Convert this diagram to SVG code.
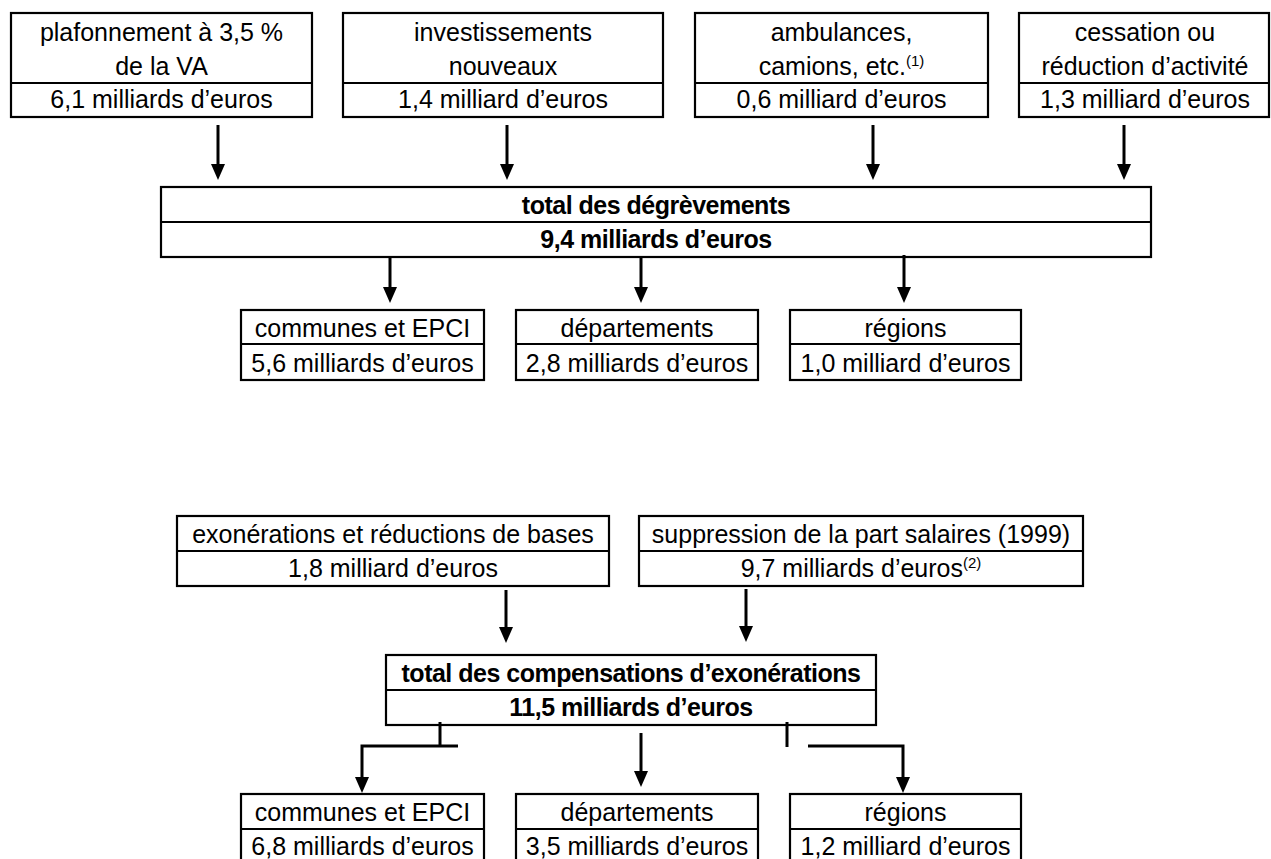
<svg xmlns="http://www.w3.org/2000/svg" width="1271" height="859" viewBox="0 0 1271 859">
<defs>
<style>
rect.b{fill:#fff;stroke:#000;stroke-width:2.2}
line.d{stroke:#000;stroke-width:2.2}
text{font-family:"Liberation Sans",Arial,sans-serif;font-size:25px;fill:#000;text-anchor:middle}
text.bold{font-weight:bold;letter-spacing:-0.5px}
tspan.sup{font-size:15px}
.c line,.c polyline{stroke:#000;stroke-width:3;fill:none}
.c polygon{fill:#000}
</style>
</defs>
<rect width="1271" height="859" fill="#fff"/>

<g id="n1">
<rect class="b" x="11" y="13" width="301" height="104"/>
<line class="d" x1="11" y1="83" x2="312" y2="83"/>
<text x="161.5" y="41">plafonnement à 3,5 %</text>
<text x="161.5" y="75">de la VA</text>
<text x="161.5" y="108">6,1 milliards d’euros</text>
</g>
<g id="n2">
<rect class="b" x="343" y="13" width="320" height="104"/>
<line class="d" x1="343" y1="83" x2="663" y2="83"/>
<text x="503" y="41">investissements</text>
<text x="503" y="75">nouveaux</text>
<text x="503" y="108">1,4 milliard d’euros</text>
</g>
<g id="n3">
<rect class="b" x="695" y="13" width="293" height="104"/>
<line class="d" x1="695" y1="83" x2="988" y2="83"/>
<text x="841.5" y="41">ambulances,</text>
<text x="841.5" y="75">camions, etc.<tspan class="sup" dy="-9">(1)</tspan></text>
<text x="841.5" y="108">0,6 milliard d’euros</text>
</g>
<g id="n4">
<rect class="b" x="1019" y="13" width="250" height="104"/>
<line class="d" x1="1019" y1="83" x2="1269" y2="83"/>
<text x="1145" y="41">cessation ou</text>
<text x="1145" y="75">réduction d’activité</text>
<text x="1145" y="108">1,3 milliard d’euros</text>
</g>

<g id="total1">
<rect class="b" x="161" y="187" width="990" height="70"/>
<line class="d" x1="161" y1="222" x2="1151" y2="222"/>
<text class="bold" x="656" y="214">total des dégrèvements</text>
<text class="bold" x="656" y="248">9,4 milliards d’euros</text>
</g>

<g id="communes1">
<rect class="b" x="241" y="310" width="243" height="70"/>
<line class="d" x1="241" y1="344" x2="484" y2="344"/>
<text x="362.5" y="337">communes et EPCI</text>
<text x="362.5" y="372">5,6 milliards d’euros</text>
</g>
<g id="departements1">
<rect class="b" x="516" y="310" width="242" height="70"/>
<line class="d" x1="516" y1="344" x2="758" y2="344"/>
<text x="637" y="337">départements</text>
<text x="637" y="372">2,8 milliards d’euros</text>
</g>
<g id="regions1">
<rect class="b" x="790" y="310" width="231" height="70"/>
<line class="d" x1="790" y1="344" x2="1021" y2="344"/>
<text x="905.5" y="337">régions</text>
<text x="905.5" y="372">1,0 milliard d’euros</text>
</g>

<g id="exo">
<rect class="b" x="177" y="516" width="432" height="70"/>
<line class="d" x1="177" y1="551" x2="609" y2="551"/>
<text x="393" y="543">exonérations et réductions de bases</text>
<text x="393" y="577">1,8 milliard d’euros</text>
</g>
<g id="supp">
<rect class="b" x="639" y="516" width="444" height="70"/>
<line class="d" x1="639" y1="551" x2="1083" y2="551"/>
<text x="861" y="543">suppression de la part salaires (1999)</text>
<text x="861" y="577">9,7 milliards d’euros<tspan class="sup" dy="-9">(2)</tspan></text>
</g>

<g id="total2">
<rect class="b" x="386" y="655" width="490" height="70"/>
<line class="d" x1="386" y1="690" x2="876" y2="690"/>
<text class="bold" x="631" y="682">total des compensations d’exonérations</text>
<text class="bold" x="631" y="716">11,5 milliards d’euros</text>
</g>

<g id="communes2">
<rect class="b" x="241" y="794" width="243" height="72"/>
<line class="d" x1="241" y1="829" x2="484" y2="829"/>
<text x="362.5" y="821">communes et EPCI</text>
<text x="362.5" y="855">6,8 milliards d’euros</text>
</g>
<g id="departements2">
<rect class="b" x="516" y="794" width="242" height="72"/>
<line class="d" x1="516" y1="829" x2="758" y2="829"/>
<text x="637" y="821">départements</text>
<text x="637" y="855">3,5 milliards d’euros</text>
</g>
<g id="regions2">
<rect class="b" x="790" y="794" width="231" height="72"/>
<line class="d" x1="790" y1="829" x2="1021" y2="829"/>
<text x="905.5" y="821">régions</text>
<text x="905.5" y="855">1,2 milliard d’euros</text>
</g>

<g id="connectors" class="c">
<line x1="218" y1="125" x2="218" y2="166"/><polygon points="211,164 225,164 218,180"/>
<line x1="507" y1="125" x2="507" y2="166"/><polygon points="500,164 514,164 507,180"/>
<line x1="873" y1="125" x2="873" y2="166"/><polygon points="866,164 880,164 873,180"/>
<line x1="1124" y1="125" x2="1124" y2="166"/><polygon points="1117,164 1131,164 1124,180"/>

<line x1="390" y1="257" x2="390" y2="289"/><polygon points="383,287 397,287 390,303"/>
<line x1="641" y1="257" x2="641" y2="289"/><polygon points="634,287 648,287 641,303"/>
<line x1="904" y1="255" x2="904" y2="289"/><polygon points="897,287 911,287 904,303"/>

<line x1="506" y1="590" x2="506" y2="629"/><polygon points="499,627 513,627 506,643"/>
<line x1="746" y1="589" x2="746" y2="628"/><polygon points="739,626 753,626 746,642"/>

<line x1="440" y1="722" x2="440" y2="747"/>
<polyline points="458,746 362,746 362,779"/><polygon points="355,777 369,777 362,793"/>
<line x1="641" y1="733" x2="641" y2="773"/><polygon points="634,771 648,771 641,787"/>
<line x1="787" y1="722" x2="787" y2="747"/>
<polyline points="808,746 903,746 903,779"/><polygon points="896,777 910,777 903,793"/>
</g>
</svg>
